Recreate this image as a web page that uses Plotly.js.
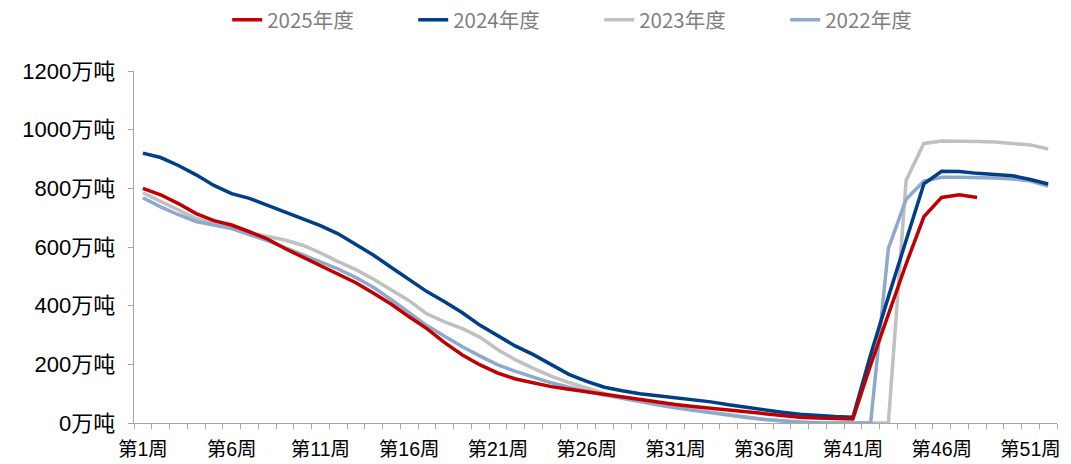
<!DOCTYPE html>
<html>
<head>
<meta charset="utf-8">
<script src="https://cdn.plot.ly/plotly-3.0.1.min.js"></script>
<style>html,body{margin:0;padding:0;background:#fff;}#chart{width:1071px;height:464px;}</style>
</head>
<body>
<div id="chart"></div>
<script>
const weeks = ['第1周','第2周','第3周','第4周','第5周','第6周','第7周','第8周','第9周','第10周',
'第11周','第12周','第13周','第14周','第15周','第16周','第17周','第18周','第19周','第20周',
'第21周','第22周','第23周','第24周','第25周','第26周','第27周','第28周','第29周','第30周',
'第31周','第32周','第33周','第34周','第35周','第36周','第37周','第38周','第39周','第40周',
'第41周','第42周','第43周','第44周','第45周','第46周','第47周','第48周','第49周','第50周',
'第51周','第52周'];

const shownTicks = ['第1周','第6周','第11周','第16周','第21周','第26周','第31周','第36周','第41周','第46周','第51周'];

const y2025 = [800,778,748,714,690,675,652,628,595,565,
538,508,478,442,405,362,322,274,232,198,
170,150,136,124,115,106,98,89,79,71,
63,56,50,44,38,32,26,20,17,15,
14,198,370,542,703,769,778,769,null,null,
null,null];

const y2024 = [920,905,878,846,810,782,766,742,720,697,
673,645,610,572,530,490,448,413,376,333,
298,262,233,198,166,142,122,110,100,93,
86,79,72,62,53,44,37,30,25,22,
20,233,430,627,815,858,857,851,848,843,
830,815];

const y2023 = [785,755,725,697,680,668,648,636,624,606,
580,550,523,490,455,417,372,345,322,292,
250,215,186,160,138,118,101,86,72,61,
53,45,36,28,20,13,7,3,0,0,
0,0,0,828,953,961,961,960,958,954,
948,934];

const y2022 = [768,737,710,687,675,663,642,622,598,574,
552,525,496,462,420,375,332,296,260,228,
198,176,155,137,122,108,95,84,73,62,
52,43,34,26,19,12,7,3,1,0,
0,0,595,763,825,838,838,837,835,832,
825,808];

const seriesNames = ['2025年度','2024年度','2023年度','2022年度'];
const seriesColors = ['#C00000','#003F88','#C0C0C0','#8EA9CC'];
const seriesData = [y2025, y2024, y2023, y2022];

const traces = seriesData.map((d, i) => ({
  x: weeks, y: d, type: 'scatter', mode: 'lines', name: seriesNames[i],
  line: {color: seriesColors[i], width: 3.5}, connectgaps: false, hoverinfo: 'skip',
  legendrank: i + 1
}));
// draw order: earliest behind
const ordered = [traces[2], traces[3], traces[1], traces[0]];

const layout = {
  width: 1071, height: 464,
  margin: {l: 134, r: 14, t: 71, b: 41, autoexpand: false},
  paper_bgcolor: '#fff', plot_bgcolor: '#fff',
  font: {family: 'Liberation Sans, Noto Sans CJK SC, sans-serif', color: '#000'},
  showlegend: true,
  legend: {
    orientation: 'h', x: 0.101, xanchor: 'left', y: 1.145, yanchor: 'middle',
    font: {family: 'Liberation Sans Narrow, Noto Sans CJK SC, sans-serif', size: 20.5, color: '#7F7F7F'},
    entrywidth: 141, entrywidthmode: 'pixels', traceorder: 'normal'
  },
  xaxis: {
    type: 'category', range: [-0.5, 51.5],
    tickmode: 'array', tickvals: weeks,
    ticktext: weeks.map(w => shownTicks.includes(w) ? w : ''),
    tickangle: 0, ticklabelstandoff: 8,
    tickson: 'boundaries', ticks: 'outside', ticklen: 5, tickcolor: '#A6A6A6', tickwidth: 1,
    showline: true, linecolor: '#A6A6A6', linewidth: 1.3,
    showgrid: false, zeroline: false,
    tickfont: {size: 19.5, color: '#000', family: 'Liberation Sans, Noto Sans CJK SC, sans-serif'}
  },
  yaxis: {
    range: [0, 1200], dtick: 200, tick0: 0, ticksuffix: '万吨',
    ticks: 'outside', ticklen: 5, tickcolor: '#A6A6A6', tickwidth: 1,
    showline: true, linecolor: '#A6A6A6', linewidth: 1.3,
    showgrid: false, zeroline: false, ticklabelstandoff: 8,
    tickfont: {size: 22, color: '#000', family: 'Liberation Sans, Noto Sans CJK SC, sans-serif'}
  }
};

Plotly.newPlot('chart', ordered, layout, {displayModeBar: false, staticPlot: true});
</script>
</body>
</html>
